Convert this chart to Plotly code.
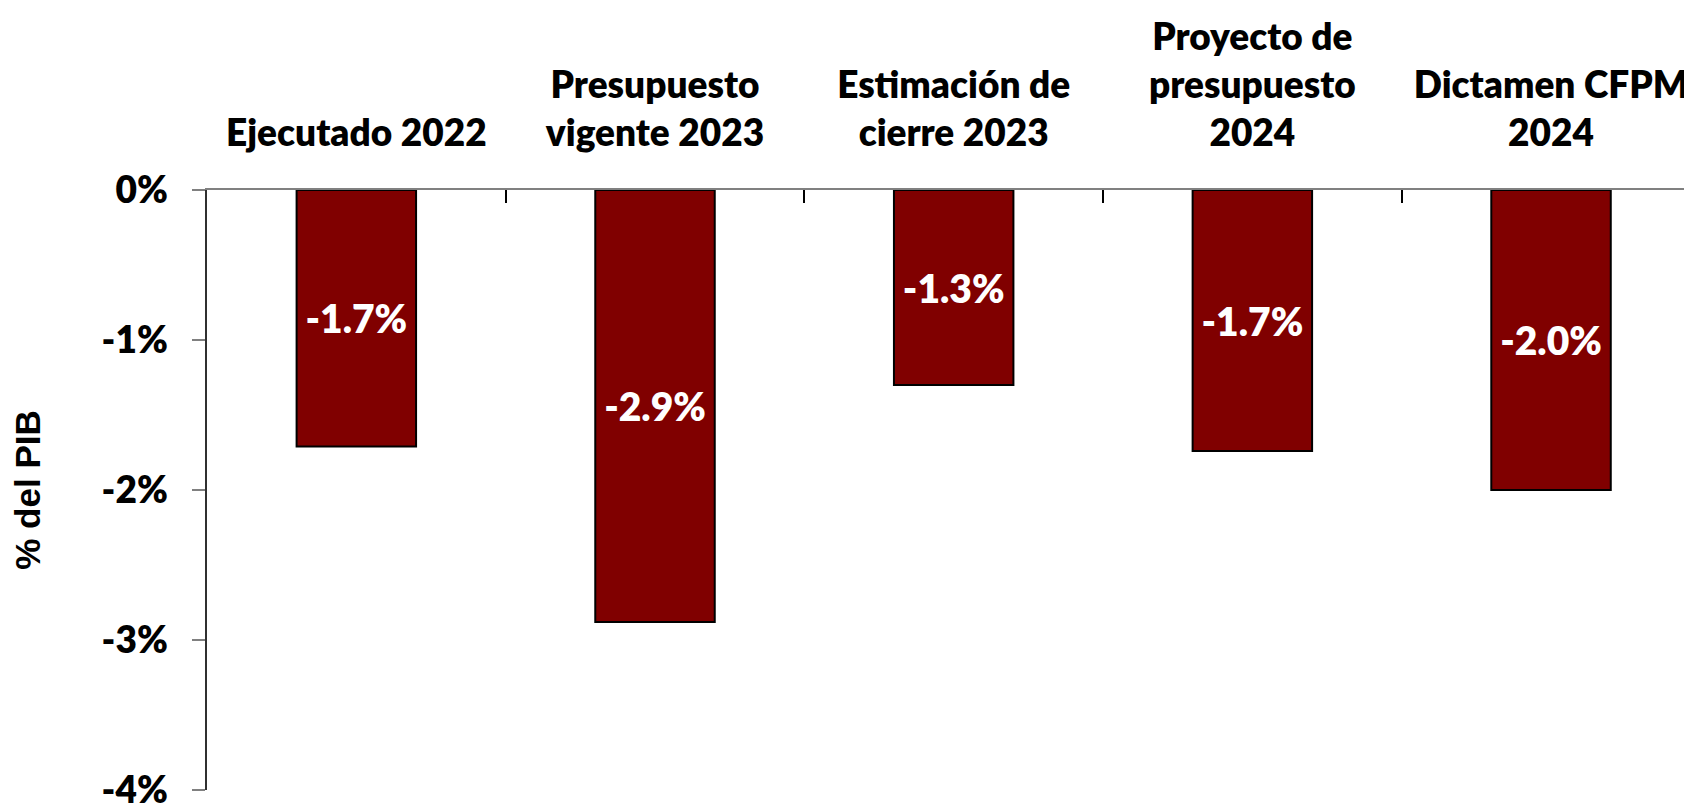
import plotly.graph_objects as go

categories = [
    "Ejecutado 2022",
    "Presupuesto<br>vigente 2023",
    "Estimación de<br>cierre 2023",
    "Proyecto de<br>presupuesto<br>2024",
    "Dictamen CFPM<br>2024",
]
values = [-1.71, -2.88, -1.30, -1.74, -2.00]
y_ticks = [0, -1, -2, -3, -4]
y_tick_labels = ["0%", "-1%", "-2%", "-3%", "-4%"]

# the page body adds an 8px offset, so the figure is sized to fit the window
W, H = 1684, 797
FONT = "Lato"

fig = go.Figure(
    go.Bar(
        x=categories,
        y=values,
        width=0.4,
        marker=dict(color="#800000", line=dict(color="#000000", width=2)),
        texttemplate="%{y:.1f}%",
        textposition="inside",
        insidetextanchor="middle",
        textangle=0,
        constraintext="none",
        textfont=dict(family=FONT, size=39, color="white", weight=800),
        hoverinfo="skip",
    )
)

fig.update_layout(
    width=W,
    height=H,
    margin=dict(l=199, r=0, t=182, b=15, pad=0),
    plot_bgcolor="white",
    paper_bgcolor="white",
    showlegend=False,
    xaxis=dict(
        side="top",
        range=[-0.5, 4.472],
        automargin=False,
        showline=True,
        linecolor="#808080",
        linewidth=1.5,
        ticks="inside",
        tickson="boundaries",
        ticklen=13,
        tickcolor="#000000",
        tickwidth=1.5,
        showgrid=False,
        zeroline=False,
        tickfont=dict(family=FONT, size=37, color="black", weight=800),
        ticklabelstandoff=27,
        ticklabeloverflow="allow",
    ),
    yaxis=dict(
        range=[-4, 0],
        automargin=False,
        tickvals=y_ticks,
        ticktext=y_tick_labels,
        showline=True,
        linecolor="#303030",
        linewidth=1.5,
        ticks="outside",
        ticklen=13,
        tickcolor="#808080",
        tickwidth=1.5,
        showgrid=False,
        zeroline=False,
        tickfont=dict(family=FONT, size=37, color="black", weight=800),
        ticklabelstandoff=17,
        ticklabeloverflow="allow",
        title=dict(
            text="% del PIB",
            font=dict(family="Liberation Sans", size=35, color="black", weight="bold"),
            standoff=64,
        ),
    ),
)

fig.write_html("out.html")
